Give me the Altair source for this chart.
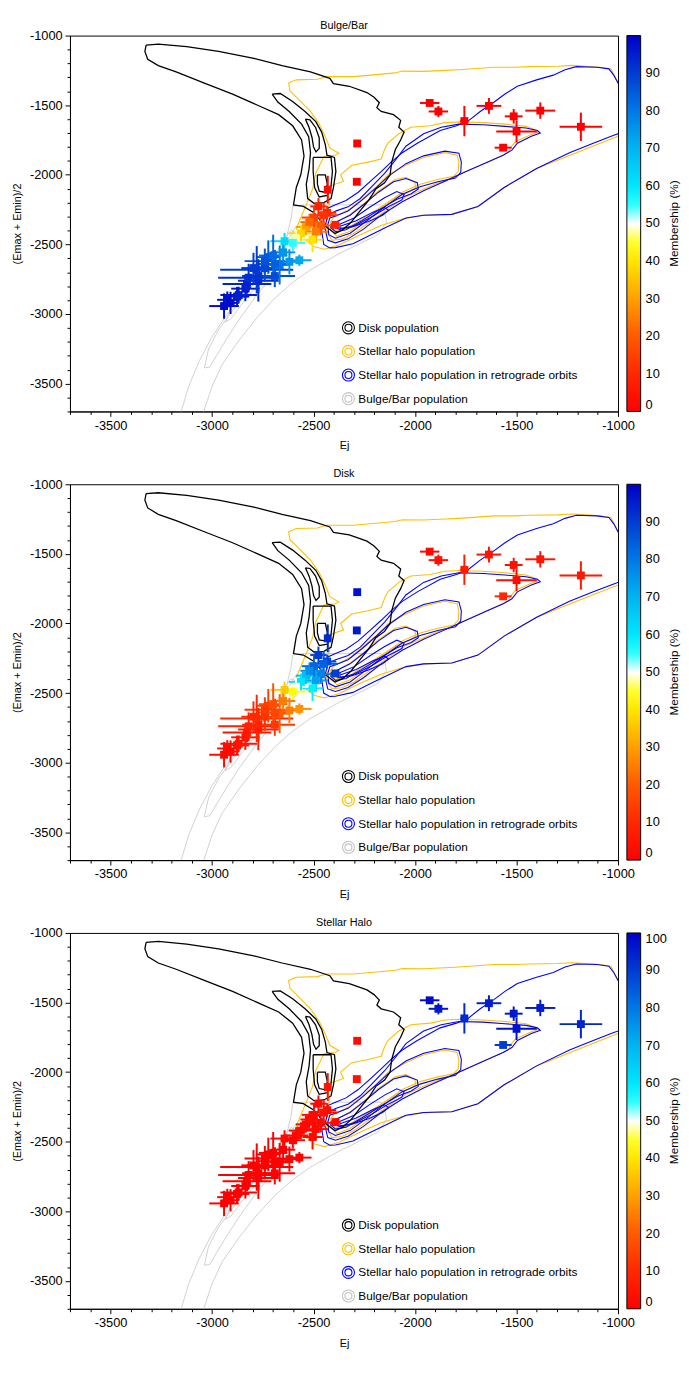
import altair as alt
import pandas as pd

FONT = "Liberation Sans"
PW, PH = 557, 382

# ---------------- stars: Ej, (Emax+Emin)/2, errors, membership (%) ----------------
star_ej = [-1928, -1885, -1757, -1636, -1514, -1383, -1500, -1566, -1183,
           -2285, -2287, -2430,
           -2476, -2433, -2498, -2465, -2392, -2538, -2489, -2562, -2505, -2586, -2450, -2520,
           -2643, -2602,
           -2941, -2925, -2909, -2877, -2869, -2836, -2828, -2820, -2772, -2772, -2796,
           -2780, -2740, -2691, -2723, -2699, -2650, -2667, -2619, -2570, -2740, -2690]
star_e = [-1484, -1545, -1614, -1505, -1580, -1539, -1689, -1805, -1655,
          -1775, -2050, -2107,
          -2227, -2273, -2307, -2364, -2359, -2375, -2409, -2420, -2466, -2455, -2290, -2340,
          -2477, -2489,
          -2943, -2898, -2920, -2875, -2864, -2818, -2784, -2739, -2761, -2727, -2670,
          -2682, -2670, -2727, -2591, -2580, -2557, -2648, -2625, -2614, -2620, -2640]
star_ej_err = [48, 48, 20, 61, 44, 74, 100, 42, 105,
               8, 8, 15,
               40, 45, 60, 50, 25, 50, 60, 60, 50, 60, 70, 45,
               70, 60,
               73, 50, 40, 60, 90, 70, 120, 150, 100, 80, 60,
               180, 90, 100, 60, 70, 60, 50, 60, 60, 100, 80]
star_e_err = [15, 40, 109, 57, 52, 59, 80, 15, 102,
              8, 20, 100,
              60, 50, 80, 70, 25, 60, 80, 60, 90, 60, 90, 60,
              60, 60,
              91, 60, 80, 70, 60, 90, 70, 100, 150, 120, 110,
              170, 100, 80, 120, 150, 80, 140, 90, 40, 90, 100]
memb_bulge = [0, 0, 0, 0, 0, 0, 0, 0, 0,
              0, 0, 2,
              8, 10, 15, 20, 8, 30, 25, 38, 40, 48, 12, 22,
              62, 55,
              98, 97, 98, 96, 95, 95, 94, 92, 93, 91, 90,
              90, 88, 87, 85, 82, 75, 80, 75, 72, 86, 84]
memb_disk = [2, 4, 7, 5, 4, 5, 3, 10, 6,
             97, 96, 93,
             90, 88, 83, 78, 90, 68, 73, 60, 58, 50, 84, 76,
             36, 44,
             2, 3, 2, 4, 5, 5, 6, 8, 7, 9, 10,
             10, 12, 13, 15, 18, 25, 20, 25, 28, 14, 16]
memb_halo = [98, 96, 93, 95, 96, 95, 97, 90, 94,
             3, 4, 5,
             2, 2, 2, 2, 2, 2, 2, 2, 2, 2, 4, 2,
             2, 1,
             0, 0, 0, 0, 0, 0, 0, 0, 0, 0, 0,
             0, 0, 0, 0, 0, 0, 0, 0, 0, 0, 0]

# ---------------- density contours (Ej, (Emax+Emin)/2) ----------------
disk_1 = [(-3325, -1068), (-3265, -1061), (-3125, -1080), (-2968, -1114), (-2794, -1164), (-2655, -1216),
          (-2515, -1261), (-2420, -1307), (-2402, -1345), (-2324, -1364), (-2237, -1409), (-2202, -1443),
          (-2176, -1482), (-2188, -1518), (-2167, -1545), (-2106, -1568), (-2071, -1609), (-2080, -1659),
          (-2054, -1693), (-2071, -1750), (-2097, -1818), (-2115, -1909), (-2123, -2000), (-2150, -2057),
          (-2193, -2102), (-2228, -2182), (-2272, -2261), (-2315, -2341), (-2359, -2398), (-2394, -2421),
          (-2446, -2364), (-2498, -2273), (-2550, -2227), (-2599, -2216), (-2585, -2091), (-2563, -2000),
          (-2547, -1864), (-2559, -1750), (-2603, -1648), (-2672, -1568), (-2759, -1511), (-2899, -1420),
          (-3038, -1341), (-3177, -1261), (-3265, -1216), (-3317, -1170), (-3331, -1114)]
disk_2 = [(-2704, -1420), (-2664, -1416), (-2603, -1473), (-2542, -1545), (-2489, -1618), (-2460, -1693),
          (-2442, -1784), (-2434, -1859), (-2397, -1875), (-2390, -1977), (-2402, -2091), (-2414, -2171),
          (-2449, -2200), (-2498, -2205), (-2529, -2171), (-2536, -2068), (-2522, -1955), (-2515, -1841),
          (-2524, -1727), (-2559, -1636), (-2620, -1545), (-2676, -1477)]
disk_3 = [(-2540, -1600), (-2518, -1605), (-2490, -1660), (-2472, -1735), (-2472, -1810), (-2488, -1835),
          (-2500, -1800), (-2508, -1730), (-2522, -1660)]
disk_4 = [(-2502, -1875), (-2414, -1875), (-2407, -1977), (-2414, -2080), (-2432, -2148), (-2472, -2159),
          (-2495, -2091), (-2502, -1977)]
disk_5 = [(-2481, -2000), (-2442, -2000), (-2432, -2068), (-2446, -2125), (-2472, -2118), (-2481, -2068)]

halo_1 = [(-2585, -2386), (-2559, -2296), (-2533, -2205), (-2505, -2102), (-2489, -1989), (-2449, -1868),
          (-2394, -1859), (-2376, -1845), (-2420, -1807), (-2442, -1727), (-2472, -1636), (-2515, -1545),
          (-2576, -1455), (-2616, -1398), (-2623, -1341), (-2585, -1318), (-2481, -1314), (-2437, -1295),
          (-2306, -1295), (-2219, -1284), (-2097, -1268), (-2063, -1255), (-1958, -1257), (-1853, -1250),
          (-1784, -1245), (-1697, -1236), (-1610, -1227), (-1505, -1227), (-1435, -1223), (-1296, -1220),
          (-1226, -1214), (-1157, -1220), (-1087, -1227), (-1035, -1239), (-1000, -1341), (-913, -1341),
          (-913, -1682), (-1000, -1723), (-1174, -1823), (-1401, -1955), (-1561, -2091), (-1690, -2227),
          (-1819, -2284), (-1958, -2291), (-2063, -2318), (-2167, -2364), (-2272, -2432), (-2376, -2505),
          (-2446, -2535), (-2498, -2515), (-2550, -2455)]
halo_2 = [(-2420, -2182), (-2441, -2091), (-2352, -2046), (-2367, -2000), (-2312, -1932), (-2231, -1909),
          (-2167, -1886), (-2150, -1818), (-2134, -1773), (-2080, -1705), (-2021, -1659), (-1925, -1648),
          (-1853, -1625), (-1779, -1620), (-1665, -1625), (-1557, -1636), (-1453, -1652), (-1408, -1677),
          (-1392, -1693), (-1435, -1716), (-1505, -1761), (-1531, -1807), (-1540, -1841), (-1610, -1886),
          (-1697, -1943), (-1784, -2000), (-1871, -2050), (-1958, -2102), (-2045, -2159), (-2132, -2245),
          (-2219, -2335), (-2300, -2420), (-2360, -2462), (-2410, -2470), (-2438, -2400), (-2430, -2273)]
halo_3 = [(-2400, -2305), (-2320, -2245), (-2250, -2160), (-2190, -2085), (-2132, -2000), (-2045, -1932),
          (-1958, -1875), (-1853, -1841), (-1793, -1859), (-1784, -1909), (-1787, -1977), (-1810, -2011),
          (-1888, -2034), (-1975, -2068), (-2063, -2125), (-2150, -2215), (-2237, -2315), (-2320, -2405),
          (-2385, -2440), (-2415, -2400), (-2418, -2340)]
halo_4 = [(-2392, -2345), (-2320, -2285), (-2250, -2205), (-2184, -2120), (-2097, -2034), (-2045, -2018),
          (-2002, -2050), (-1996, -2091), (-2028, -2122), (-2097, -2165), (-2184, -2245), (-2265, -2322),
          (-2340, -2388), (-2395, -2400), (-2410, -2370)]

retro_1 = [(-913, -1364), (-1000, -1341), (-1021, -1284), (-1045, -1239), (-1104, -1227), (-1205, -1223),
           (-1261, -1245), (-1319, -1284), (-1401, -1318), (-1496, -1364), (-1557, -1420), (-1610, -1477),
           (-1679, -1545), (-1739, -1614), (-1796, -1648), (-1876, -1682), (-1989, -1773), (-2063, -1841),
           (-2118, -1909), (-2167, -1977), (-2219, -2046), (-2280, -2125), (-2340, -2185), (-2392, -2216),
           (-2430, -2240), (-2450, -2300), (-2460, -2400), (-2450, -2500), (-2420, -2525), (-2392, -2523),
           (-2306, -2495), (-2219, -2432), (-2132, -2370), (-2045, -2310), (-1958, -2290), (-1819, -2284),
           (-1690, -2227), (-1561, -2091), (-1401, -1955), (-1239, -1841), (-1122, -1773), (-1021, -1716),
           (-913, -1659)]
retro_2 = [(-2392, -2261), (-2330, -2230), (-2270, -2170), (-2210, -2080), (-2150, -1990), (-2100, -1900),
           (-2045, -1795), (-1958, -1705), (-1871, -1659), (-1784, -1636), (-1665, -1641), (-1557, -1652),
           (-1453, -1664), (-1397, -1682), (-1383, -1700), (-1427, -1723), (-1496, -1773), (-1523, -1823),
           (-1566, -1859), (-1644, -1909), (-1749, -1977), (-1853, -2046), (-1958, -2114), (-2063, -2193),
           (-2167, -2290), (-2254, -2390), (-2330, -2460), (-2392, -2489), (-2430, -2470), (-2445, -2380),
           (-2430, -2290)]
retro_3 = [(-2392, -2296), (-2330, -2260), (-2260, -2180), (-2190, -2090), (-2132, -2011), (-2045, -1920),
           (-1958, -1864), (-1853, -1830), (-1784, -1845), (-1772, -1909), (-1775, -1982), (-1801, -2023),
           (-1888, -2050), (-1975, -2086), (-2063, -2140), (-2150, -2230), (-2237, -2330), (-2320, -2420),
           (-2392, -2455), (-2425, -2430), (-2430, -2360), (-2420, -2310)]
retro_4 = [(-2392, -2341), (-2320, -2290), (-2250, -2210), (-2180, -2125), (-2106, -2050), (-2045, -2027),
           (-1989, -2057), (-1984, -2102), (-2019, -2136), (-2089, -2175), (-2176, -2250), (-2263, -2330),
           (-2340, -2395), (-2392, -2409), (-2415, -2380), (-2410, -2350)]
retro_5 = [(-2380, -2360), (-2300, -2310), (-2220, -2230), (-2150, -2165), (-2090, -2120), (-2054, -2141),
           (-2065, -2180), (-2132, -2230), (-2210, -2300), (-2290, -2360), (-2370, -2392), (-2395, -2378)]
retro_6 = [(-2370, -2370), (-2290, -2330), (-2210, -2270), (-2150, -2235), (-2130, -2255), (-2160, -2290),
           (-2230, -2335), (-2310, -2375), (-2370, -2385)]

bar_1 = [(-3177, -3841), (-3153, -3705), (-3116, -3523), (-3064, -3341), (-3003, -3171), (-2925, -3000),
         (-2829, -2818), (-2742, -2671), (-2672, -2546), (-2634, -2455), (-2611, -2318), (-2603, -2227),
         (-2550, -2216), (-2394, -2216), (-2167, -2216), (-2150, -2261), (-2141, -2341), (-2184, -2432),
         (-2376, -2568), (-2515, -2682), (-2603, -2773), (-2690, -2886), (-2777, -3023), (-2864, -3182),
         (-2951, -3364), (-3000, -3520), (-3042, -3705), (-3064, -3841)]
bar_2 = [(-3038, -3387), (-3017, -3250), (-2968, -3114), (-2899, -2977), (-2820, -2830), (-2742, -2693),
         (-2672, -2580), (-2629, -2477), (-2594, -2386), (-2559, -2364), (-2550, -2432), (-2611, -2568),
         (-2698, -2716), (-2785, -2875), (-2864, -3034), (-2925, -3171), (-2977, -3296), (-3012, -3382)]
bar_3 = [(-2934, -3057), (-2907, -2955), (-2846, -2841), (-2768, -2716), (-2698, -2602), (-2646, -2466),
         (-2611, -2398), (-2576, -2420), (-2585, -2477), (-2637, -2568), (-2707, -2682), (-2785, -2807),
         (-2855, -2932), (-2907, -3034)]

populations = ["Disk population", "Stellar halo population",
               "Stellar halo population in retrograde orbits", "Bulge/Bar population"]
pop_colors = ["#000000", "#ffc000", "#0000ff", "#c4c4c4"]

contours = [
    (populations[3], bar_1, False), (populations[3], bar_2, True), (populations[3], bar_3, True),
    (populations[1], halo_1, True), (populations[1], halo_2, True), (populations[1], halo_3, True),
    (populations[1], halo_4, True),
    (populations[2], retro_1, False), (populations[2], retro_2, True), (populations[2], retro_3, True),
    (populations[2], retro_4, True), (populations[2], retro_5, True), (populations[2], retro_6, True),
    (populations[0], disk_1, True), (populations[0], disk_2, True), (populations[0], disk_3, True),
    (populations[0], disk_4, True), (populations[0], disk_5, True),
]

# colour bar stops
memb_stops = [0, 10, 20, 30, 40, 44, 50, 56, 60, 70, 80, 90, 100]
memb_colors = ["#ff0000", "#ff2800", "#ff5a00", "#ffa000", "#ffe600", "#ffff00", "#ffffff",
               "#00ffff", "#00e6ff", "#00b4f0", "#0078e6", "#003cd2", "#0000c8"]

x_ticks = [-3700, -3600, -3500, -3400, -3300, -3200, -3100, -3000, -2900, -2800, -2700, -2600, -2500,
           -2400, -2300, -2200, -2100, -2000, -1900, -1800, -1700, -1600, -1500, -1400, -1300, -1200,
           -1100, -1000]
y_ticks = x_ticks
bar_ticks_a = [0, 10, 20, 30, 40, 50, 60, 70, 80, 90]
bar_ticks_b = [0, 10, 20, 30, 40, 50, 60, 70, 80, 90, 100]

# ---------------- tables ----------------
rows = []
for cid, (pop, pts, closed) in enumerate(contours):
    seq = list(pts) + ([pts[0]] if closed else [])
    for k, (a, b) in enumerate(seq):
        rows.append({"cid": cid, "pop": pop, "ord": k, "ej": a, "e": b})
cont_df = pd.DataFrame(rows)

stars = pd.DataFrame({"ej": star_ej, "e": star_e, "ejerr": star_ej_err, "eerr": star_e_err,
                      "bulge": memb_bulge, "disk": memb_disk, "halo": memb_halo})

LABEL_EXPR = "datum.value % 500 === 0 ? '' + datum.value : ''"
TICK_SIZE = {"condition": {"test": "datum.value % 500 === 0", "value": 5}, "value": 3}

xscale = alt.Scale(domain=[-3700, -1000], nice=False, zero=False)
yscale = alt.Scale(domain=[-3700, -1000], nice=False, zero=False)
xaxis = alt.Axis(values=x_ticks, labelExpr=LABEL_EXPR, tickSize=TICK_SIZE, title="Ej",
                 titlePadding=8, labelPadding=3)
yaxis = alt.Axis(values=y_ticks, labelExpr=LABEL_EXPR, tickSize=TICK_SIZE, title="(Emax + Emin)/2",
                 titlePadding=7, labelPadding=3)

RING = ("M-1,0A1,1,0,1,0,1,0A1,1,0,1,0,-1,0Z"
        "M-0.58,0A0.58,0.58,0,1,0,0.58,0A0.58,0.58,0,1,0,-0.58,0Z")

pop_scale = alt.Scale(domain=populations, range=pop_colors)


def X(field):
    return alt.X(f"{field}:Q", scale=xscale, axis=xaxis, title="Ej")


def Y(field):
    return alt.Y(f"{field}:Q", scale=yscale, axis=yaxis, title="(Emax + Emin)/2")


def panel(title, field, bar_vals):
    pop_legend = alt.Legend(title=None, orient="none", legendX=276, legendY=290, symbolType=RING,
                            symbolSize=150, symbolStrokeWidth=1.1, symbolFillColor="transparent",
                            labelFont=FONT, labelFontSize=12, labelColor="black", labelOffset=3,
                            rowPadding=6, labelLimit=400)
    stroke = alt.Stroke("pop:N", scale=pop_scale, legend=pop_legend)
    cleg = alt.Legend(type="gradient", title=None, orient="none", legendX=PW + 9, legendY=0,
                      direction="vertical",
                      gradientLength=PH, gradientThickness=14, gradientStrokeColor="black",
                      gradientStrokeWidth=1, values=bar_vals, labelFont=FONT, labelFontSize=13,
                      labelColor="black", labelOffset=5, labelOverlap=False, padding=0)
    cscale = alt.Scale(domain=memb_stops, range=memb_colors, interpolate="rgb")
    color = alt.Color(f"{field}:Q", scale=cscale, legend=cleg)
    layers = []
    for pop, w in [(populations[3], 0.8), (populations[1], 1.1), (populations[2], 1.1),
                   (populations[0], 1.3)]:
        layers.append(
            alt.Chart(cont_df[cont_df["pop"] == pop]).mark_line(strokeWidth=w, clip=True).encode(
                x=X("ej"), y=Y("e"), detail="cid:N", order=alt.Order("ord:Q"), stroke=stroke)
        )
    base = alt.Chart(stars)
    xbars = base.transform_calculate(lo="datum.ej - datum.ejerr", hi="datum.ej + datum.ejerr").mark_rule(
        strokeWidth=2).encode(x=X("lo"), x2="hi:Q", y=Y("e"), color=color)
    ybars = base.transform_calculate(lo="datum.e - datum.eerr", hi="datum.e + datum.eerr").mark_rule(
        strokeWidth=2).encode(x=X("ej"), y=Y("lo"), y2="hi:Q", color=color)
    # squares drawn by their outline only, so every star mark uses the stroke colour
    squares = base.mark_square(filled=False, size=16, strokeWidth=4, opacity=1,
                               strokeJoin="miter").encode(x=X("ej"), y=Y("e"), color=color)
    bar_title = alt.Chart(pd.DataFrame({"t": ["Membership (%)"]})).mark_text(
        angle=270, font=FONT, fontSize=12, color="black").encode(
        text="t:N", x=alt.value(PW + 57), y=alt.value(PH / 2))
    panel_title = alt.Chart(pd.DataFrame({"t": [title]})).mark_text(
        font=FONT, fontSize=11, color="black", baseline="middle", align="center").encode(
        text="t:N", x=alt.value(PW / 2), y=alt.value(-10))
    layers += [xbars, ybars, squares, bar_title, panel_title]
    return alt.layer(*layers).properties(width=PW, height=PH).resolve_scale(color="shared")


p1 = panel("Bulge/Bar", "bulge", bar_ticks_a)
p2 = panel("Disk", "disk", bar_ticks_a)
p3 = panel("Stellar Halo", "halo", bar_ticks_b)

chart = alt.vconcat(p1, p2, p3, spacing=16).resolve_scale(
    color="independent", stroke="independent").resolve_legend(
    color="independent", stroke="independent").properties(
    padding={"left": 3, "top": 0, "right": 0, "bottom": 0}
).configure_view(stroke="black", strokeWidth=1).configure_axis(
    grid=False, labelFont=FONT, labelFontSize=13, labelColor="black", titleFont=FONT,
    titleFontSize=11, titleFontWeight="normal", titleColor="black", domainColor="black",
    tickColor="black", labelOverlap=False, labelFlush=False
)

chart.save("out.html", embed_options={"renderer": "svg", "actions": False})
